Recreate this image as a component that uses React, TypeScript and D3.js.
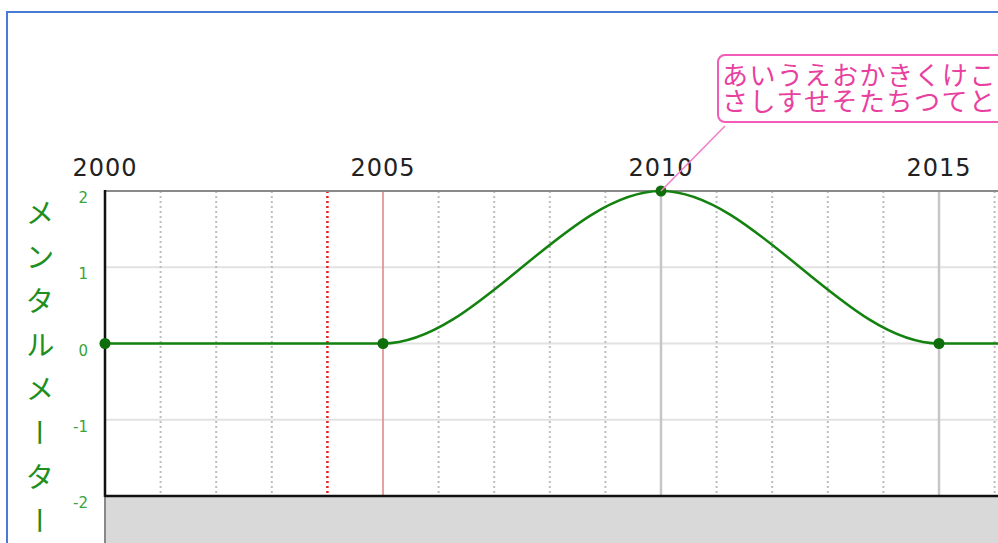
import React from 'react'
import { scaleLinear, line, curveMonotoneX } from "d3";

const years = [2000, 2005, 2010, 2015, 2020];
const values = [0, 0, 2, 0, 0];
const yTicks = [2, 1, 0, -1, -2];
const yearLabels = [2000, 2005, 2010, 2015];
const minorYears = [2001, 2002, 2003, 2006, 2007, 2008, 2009, 2011, 2012, 2013, 2014, 2016];
const majorYears = [2010, 2015];
const markerYear = 2004;
const startYear = 2005;
const yTitle = "メンタルメーター";
const calloutLines = ["あいうえおかきくけこ", "さしすせそたちつてと"];
const calloutIndex = 2;

const W = 998;
const H = 543;

export default function App() {
    // x scale: 2000 at plot left, 2015 at 939
    const x = scaleLinear().domain([2000, 2015]).range([105, 939]);
    const y = scaleLinear().domain([-2, 2]).range([496, 191]);
    const left = x(2000);
    const right = W;

    const path = line<number>()
        .x((d, i) => x(years[i]))
        .y(d => y(d))
        .curve(curveMonotoneX)(values);

    const px = x(years[calloutIndex]);
    const py = y(values[calloutIndex]);

    return (
        <svg width={W} height={H} style={{ position: "absolute", left: 0, top: 0, background: "#fff" }}
            fontFamily="'DejaVu Sans', sans-serif">
            <rect x={7} y={12} width={W} height={H} fill="none" stroke="#4a7bd4" strokeWidth={2} />

            {/* area below the axis */}
            <rect x={left} y={y(-2)} width={right - left} height={H - y(-2)} fill="#d9d9d9" />
            <line x1={left} x2={left} y1={y(-2)} y2={H} stroke="#888" strokeWidth={2} />

            {/* horizontal grid */}
            {yTicks.filter(t => t !== 2 && t !== -2).map(t => (
                <line key={"h" + t} x1={left} x2={right} y1={y(t)} y2={y(t)} stroke="#e2e2e2" strokeWidth={2} />
            ))}

            {/* vertical grid */}
            {minorYears.map(yr => (
                <line key={"m" + yr} x1={x(yr)} x2={x(yr)} y1={y(2)} y2={y(-2)}
                    stroke="#bdbdbd" strokeWidth={2} strokeDasharray="2,3" />
            ))}
            {majorYears.map(yr => (
                <line key={"M" + yr} x1={x(yr)} x2={x(yr)} y1={y(2)} y2={y(-2)} stroke="#c6c6c6" strokeWidth={2.5} />
            ))}
            <line x1={x(markerYear)} x2={x(markerYear)} y1={y(2)} y2={y(-2)}
                stroke="#ee1c1c" strokeWidth={2.5} strokeDasharray="2,3" />
            <line x1={x(startYear)} x2={x(startYear)} y1={y(2)} y2={y(-2)} stroke="#e08a8a" strokeWidth={1.6} />

            {/* frame */}
            <line x1={left} x2={right} y1={y(2)} y2={y(2)} stroke="#8a8a8a" strokeWidth={2} />
            <line x1={left} x2={right} y1={y(-2)} y2={y(-2)} stroke="#111" strokeWidth={2.5} />
            <line x1={left} x2={left} y1={y(2) - 1} y2={y(-2) + 1} stroke="#111" strokeWidth={2.5} />

            {/* series */}
            <path d={path ?? ""} fill="none" stroke="#13820f" strokeWidth={2.5} />
            {years.map((yr, i) => (
                <circle key={"c" + yr} cx={x(yr)} cy={y(values[i])} r={5.5} fill="#0f6e0c" />
            ))}

            {/* year labels */}
            {yearLabels.map(yr => (
                <text key={"y" + yr} x={x(yr)} y={176} textAnchor="middle" fontSize={24}
                    letterSpacing={1} fill="#222">{yr}</text>
            ))}

            {/* y tick labels */}
            {yTicks.map(t => (
                <text key={"t" + t} x={88} y={y(t) + 12} textAnchor="end" fontSize={15} fill="#3aa33a">{t}</text>
            ))}

            {/* y title, one glyph per step so the last one is not padded */}
            {Array.from(yTitle).map((ch, i) => (
                <text key={"v" + i} x={40} y={198 + i * 44} fontSize={29} fill="#1f8f1f"
                    fontFamily="'Noto Sans CJK JP', sans-serif"
                    style={{ writingMode: "vertical-rl" }}>{ch}</text>
            ))}

            {/* callout: two lines in one text block */}
            <line x1={px} y1={py} x2={725} y2={126} stroke="#f27cc6" strokeWidth={1.5} />
            <rect x={718} y={55} width={320} height={67} rx={7} fill="#fff" stroke="#f25cb8" strokeWidth={2} />
            <text fontSize={26} letterSpacing={1.5} fill="#e8409f" fontFamily="'Noto Sans CJK JP', sans-serif">
                {calloutLines.map((s, i) => (
                    <tspan key={"l" + i} x={722} y={85 + i * 26}>{s}</tspan>
                ))}
            </text>
        </svg>
    );
}
